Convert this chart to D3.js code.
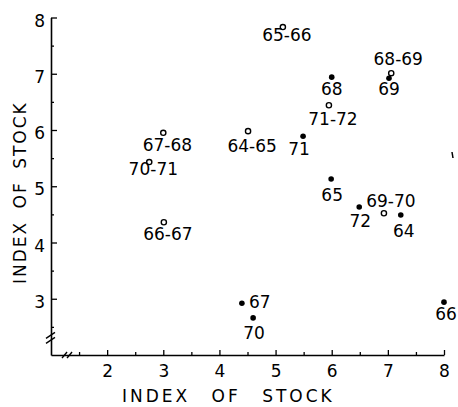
<!DOCTYPE html>
<html>
<head>
<meta charset="utf-8">
<script src="https://cdn.jsdelivr.net/npm/d3@7/dist/d3.min.js"></script>
<style>
  html, body { margin: 0; padding: 0; background: #fff; }
  svg { display: block; }
  text { font-family: "DejaVu Sans", sans-serif; fill: #000; }
</style>
</head>
<body>
<svg id="chart" width="458" height="407"></svg>
<script>
// ---- data ----
// period changes (open circles)
const periodLabels = ["64-65", "65-66", "66-67", "67-68", "68-69", "69-70", "70-71", "71-72"];
const periodX = [4.51, 5.13, 3.01, 3.00, 7.06, 6.93, 2.75, 5.95];
const periodY = [5.98, 7.83, 4.36, 5.95, 7.01, 4.52, 5.43, 6.44];
// single years (filled dots)
const yearLabels = ["64", "65", "66", "67", "68", "69", "70", "71", "72"];
const yearX = [7.23, 5.99, 8.00, 4.40, 6.00, 7.02, 4.60, 5.49, 6.49];
const yearY = [4.49, 5.13, 2.94, 2.92, 6.94, 6.92, 2.66, 5.89, 4.63];
// axes
const xTicks = [2, 3, 4, 5, 6, 7, 8];
const xMinorTicks = [1.5, 2.5, 3.5, 4.5, 5.5, 6.5, 7.5];
const yTicks = [3, 4, 5, 6, 7, 8];
const yMinorTicks = [2.5, 3.5, 4.5, 5.5, 6.5, 7.5];
const xTitle = "INDEX OF STOCK";
const yTitle = "INDEX OF STOCK";

// ---- layout of labels relative to their marks (pixels) ----
const periodLabelLayout = {
  "64-65": {mode: "split", dy: 21},
  "65-66": {mode: "split", dy: 14},
  "66-67": {mode: "split", dy: 18},
  "67-68": {mode: "split", dy: 18},
  "70-71": {mode: "split", dy: 13},
  "71-72": {mode: "split", dy: 20},
  "68-69": {mode: "center", dx: 7, dy: -8},
  "69-70": {mode: "center", dx: 7, dy: -6}
};
const yearLabelLayout = {
  "64": {anchor: "middle", dx: 3, dy: 22},
  "65": {anchor: "middle", dx: 1, dy: 22},
  "66": {anchor: "middle", dx: 2, dy: 18},
  "67": {anchor: "start", dx: 7, dy: 5},
  "68": {anchor: "middle", dx: 0, dy: 18},
  "69": {anchor: "middle", dx: 0, dy: 17},
  "70": {anchor: "middle", dx: 1, dy: 21},
  "71": {anchor: "middle", dx: -4, dy: 19},
  "72": {anchor: "middle", dx: 1, dy: 20}
};

const svg = d3.select("#chart");
const x = d3.scaleLinear().domain([1, 8]).range([51, 444]);
const y = d3.scaleLinear().domain([2, 8]).range([355, 17.5]);
const FS = 17;

// ---- axes ----
const gx = svg.append("g").attr("transform", `translate(0,${y(2)})`)
  .call(d3.axisBottom(x).tickValues(xTicks).tickSize(-5).tickSizeOuter(0).tickPadding(10).tickFormat(d3.format("d")));
const gxm = svg.append("g").attr("transform", `translate(0,${y(2)})`)
  .call(d3.axisBottom(x).tickValues(xMinorTicks).tickSize(-3).tickSizeOuter(0).tickFormat(""));
gxm.select(".domain").remove();

const gy = svg.append("g").attr("transform", `translate(${x(1)},0)`)
  .call(d3.axisLeft(y).tickValues(yTicks).tickSize(-6).tickSizeOuter(0).tickPadding(6).tickFormat(d3.format("d")));
const gym = svg.append("g").attr("transform", `translate(${x(1)},0)`)
  .call(d3.axisLeft(y).tickValues(yMinorTicks).tickSize(-3).tickSizeOuter(0).tickFormat(""));
gym.select(".domain").remove();

svg.selectAll(".domain").attr("stroke", "#000").attr("stroke-width", 1.6);
svg.selectAll(".tick line").attr("stroke", "#000").attr("stroke-width", 1.3);
gx.selectAll(".tick text").attr("font-size", FS).attr("font-family", "DejaVu Sans").attr("fill", "#000");
gy.selectAll(".tick text").attr("font-size", FS).attr("font-family", "DejaVu Sans").attr("fill", "#000").attr("dy", "0.5em");

// axis break marks
const brk = svg.append("g").attr("stroke", "#000").attr("stroke-width", 1.4).attr("fill", "none");
const by = y(2.35), bx = x(1.25);
[0, 5].forEach(o => {
  brk.append("line").attr("x1", x(1) - 5).attr("y1", by + o + 3).attr("x2", x(1) + 4).attr("y2", by + o - 3);
  brk.append("line").attr("x1", bx + o - 3).attr("y1", y(2) + 3).attr("x2", bx + o + 2).attr("y2", y(2) - 3);
});

// ---- axis titles ----
svg.append("text").attr("x", 122).attr("y", 402)
  .attr("font-size", 17).attr("letter-spacing", 3).attr("word-spacing", 13)
  .text(xTitle);
svg.append("text").attr("transform", `translate(25.5,284) rotate(-90)`)
  .attr("font-size", 17).attr("letter-spacing", 2).attr("word-spacing", 5)
  .text(yTitle);

// ---- period changes: open circles ----
const periods = periodLabels.map((l, i) => ({label: l, x: periodX[i], y: periodY[i]}));
const gp = svg.append("g");
gp.selectAll("circle").data(periods).join("circle")
  .attr("cx", d => x(d.x)).attr("cy", d => y(d.y)).attr("r", 2.6)
  .attr("fill", "#fff").attr("stroke", "#000").attr("stroke-width", 1.4);
periods.forEach(d => {
  const L = periodLabelLayout[d.label];
  const cx = x(d.x), cy = y(d.y);
  if (L.mode === "split") {
    const parts = d.label.split("-");
    gp.append("text").attr("x", cx + 1).attr("y", cy + L.dy).attr("text-anchor", "end")
      .attr("font-size", FS).text(parts[0]);
    gp.append("text").attr("x", cx + 1).attr("y", cy + L.dy).attr("text-anchor", "start")
      .attr("font-size", FS).text("-" + parts[1]);
  } else {
    gp.append("text").attr("x", cx + L.dx).attr("y", cy + L.dy).attr("text-anchor", "middle")
      .attr("font-size", FS).text(d.label);
  }
});

// ---- single years: filled dots ----
const years = yearLabels.map((l, i) => ({label: l, x: yearX[i], y: yearY[i]}));
const gyr = svg.append("g");
gyr.selectAll("circle").data(years).join("circle")
  .attr("cx", d => x(d.x)).attr("cy", d => y(d.y)).attr("r", 2.8).attr("fill", "#000");
gyr.selectAll("text").data(years).join("text")
  .attr("x", d => x(d.x) + yearLabelLayout[d.label].dx)
  .attr("y", d => y(d.y) + yearLabelLayout[d.label].dy)
  .attr("text-anchor", d => yearLabelLayout[d.label].anchor)
  .attr("font-size", FS)
  .text(d => d.label);

// small stray mark present on the original scan
svg.append("line").attr("x1", 452).attr("y1", 152).attr("x2", 453).attr("y2", 158)
  .attr("stroke", "#000").attr("stroke-width", 1.5);
</script>
</body>
</html>
